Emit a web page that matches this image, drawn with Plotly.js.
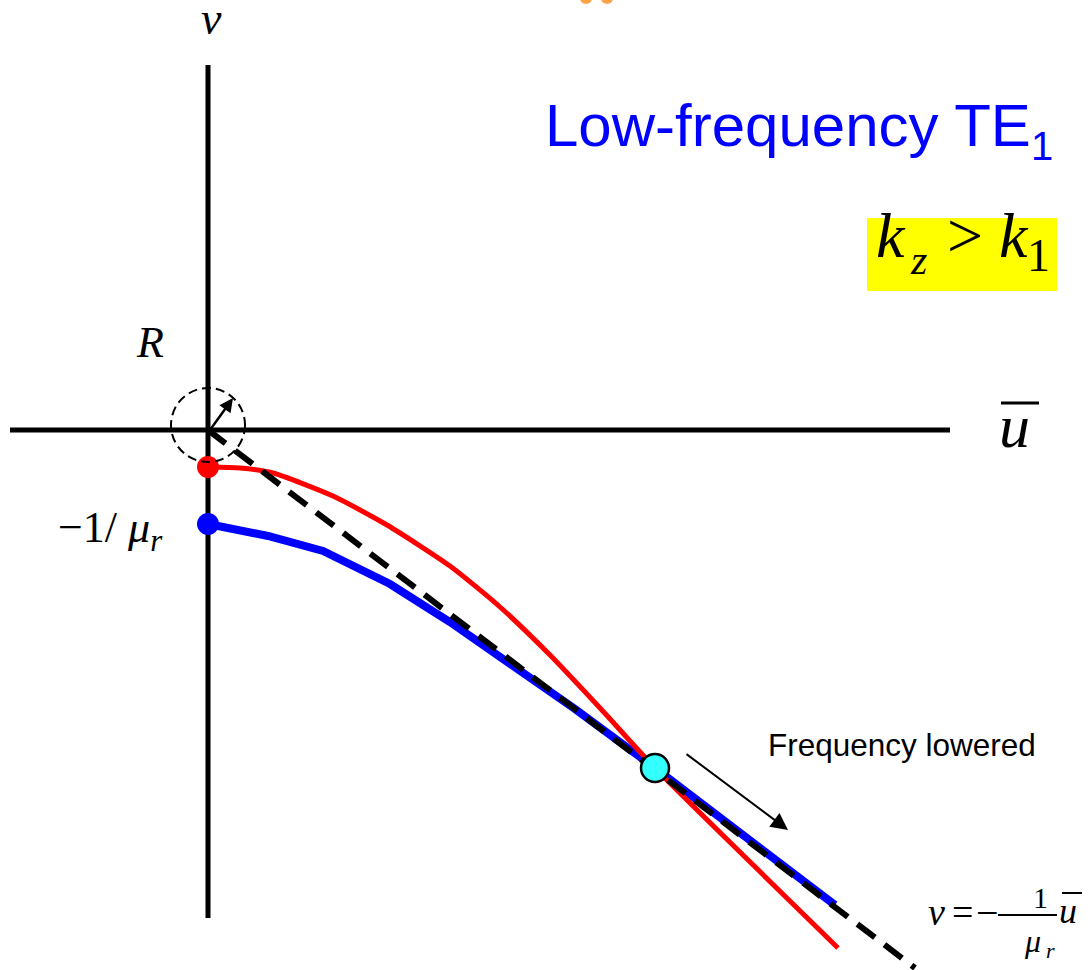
<!DOCTYPE html>
<html>
<head>
<meta charset="utf-8">
<script src="https://cdn.plot.ly/plotly-3.0.1.min.js"></script>
<style>
  html, body { margin: 0; padding: 0; background: #ffffff; }
  #chart { width: 1091px; height: 970px; }
</style>
</head>
<body>
<div id="chart"></div>
<script>
// Coordinate frame: normalised u (horizontal) and v (vertical), origin where the axes cross.
const uAxisU = [-1.98, 7.42];
const uAxisV = [0, 0];
const vAxisU = [0, 0];
const vAxisV = [3.65, -4.88];

// Blue branch (TE1 solution curve) starting at v = -1/mu_r
const blueU = [0, 0.60, 1.15, 1.82, 2.42, 3.02, 3.67, 4.47, 6.27];
const blueV = [-0.94, -1.06, -1.21, -1.54, -1.92, -2.33, -2.79, -3.38, -4.75];

// Red branch (circle-of-radius-R family)
const redU = [0, 0.32, 0.65, 1.25, 1.79, 2.42, 2.92, 3.42, 3.92, 4.47, 5.37, 6.30];
const redV = [-0.37, -0.38, -0.43, -0.66, -0.95, -1.36, -1.77, -2.25, -2.78, -3.38, -4.27, -5.18];

// Asymptote v = -(1/mu_r) u
const asymU = [0, 7.07];
const asymV = [0, -5.38];

// Start points on the v axis and the intersection point
const startU = [0, 0];
const startV = [-0.37, -0.94];
const startColors = ['#ff0000', '#0000ff'];
const crossU = [4.47];
const crossV = [-3.38];

// Small orange fragments at the top edge
const blobU = [3.78, 3.99];
const blobV = [4.32, 4.32];

const serif = 'Liberation Serif, Times New Roman, serif';
const sans = 'Liberation Sans, Arial, sans-serif';

const traces = [
  { x: uAxisU, y: uAxisV, mode: 'lines', line: { color: '#000', width: 5 }, hoverinfo: 'skip' },
  { x: vAxisU, y: vAxisV, mode: 'lines', line: { color: '#000', width: 5 }, hoverinfo: 'skip' },
  { x: blueU, y: blueV, mode: 'lines', line: { color: '#0000ff', width: 8, shape: 'linear' }, hoverinfo: 'skip' },
  { x: redU, y: redV, mode: 'lines', line: { color: '#ff0000', width: 5, shape: 'spline', smoothing: 0.6 }, hoverinfo: 'skip' },
  { x: asymU, y: asymV, mode: 'lines', line: { color: '#000', width: 6, dash: '22px,12px' }, hoverinfo: 'skip' },
  { x: startU, y: startV, mode: 'markers', marker: { color: startColors, size: 22, line: { width: 0 } }, hoverinfo: 'skip' },
  { x: crossU, y: crossV, mode: 'markers', marker: { color: '#33ffff', size: 28, line: { color: '#000', width: 2.5 } }, hoverinfo: 'skip' },
  { x: blobU, y: blobV, mode: 'markers', marker: { color: '#ff8c1a', size: 12, opacity: 0.8 }, hoverinfo: 'skip' }
];

const shapes = [
  // highlight box behind the condition
  { type: 'rect', xref: 'x', yref: 'y', x0: 6.59, x1: 8.49, y0: 1.39, y1: 2.12,
    fillcolor: '#ffff00', line: { width: 0 }, layer: 'below' },
  // dashed circle of radius R around the origin
  { type: 'circle', xref: 'x', yref: 'y', x0: -0.37, x1: 0.37, y0: -0.32, y1: 0.42,
    line: { color: '#000', width: 2, dash: '9px,5px' } },
  // overbar on the axis label u
  { type: 'line', xref: 'x', yref: 'y', x0: 7.93, x1: 8.31, y0: 0.27, y1: 0.27,
    line: { color: '#000', width: 3 } },
  // fraction bar and overbar in the asymptote formula
  { type: 'line', xref: 'x', yref: 'y', x0: 7.90, x1: 8.49, y0: -4.85, y1: -4.85,
    line: { color: '#000', width: 2 } },
  { type: 'line', xref: 'x', yref: 'y', x0: 8.54, x1: 8.74, y0: -4.63, y1: -4.63,
    line: { color: '#000', width: 2 } }
];

function txt(text, x, y, size, family, opts) {
  return Object.assign({
    text: text, x: x, y: y, xref: 'x', yref: 'y', showarrow: false,
    xanchor: 'center', yanchor: 'middle',
    font: { family: family, size: size, color: '#000' }
  }, opts || {});
}

const annotations = [
  txt('<i>v</i>', 0.03, 4.12, 46, serif),
  txt('<i>R</i>', -0.58, 0.88, 44, serif),
  txt('<i>u</i>', 8.06, 0.04, 62, serif),
  txt('−1/ <i>μ</i><sub><i>r</i></sub>', -0.43, -1.00, 44, serif, { xanchor: 'right' }),
  txt('Low-frequency TE', 3.35, 3.045, 60, sans, { xanchor: 'left', font: { family: sans, size: 60, color: '#0000ff' } }),
  txt('1', 8.21, 2.84, 40, sans, { xanchor: 'left', font: { family: sans, size: 40, color: '#0000ff' } }),
  txt('<i>k</i>', 6.66, 1.95, 64, serif, { xanchor: 'left' }),
  txt('<i>z</i>', 7.00, 1.70, 42, serif, { xanchor: 'left' }),
  txt('>', 7.57, 1.95, 64, serif),
  txt('<i>k</i>', 7.89, 1.95, 64, serif, { xanchor: 'left' }),
  txt('1', 8.17, 1.75, 46, serif, { xanchor: 'left' }),
  txt('Frequency lowered', 5.58, -3.15, 31.5, sans, { xanchor: 'left' }),
  txt('<i>v</i>', 7.28, -4.82, 38, serif),
  txt('=', 7.54, -4.82, 38, serif),
  txt('−', 7.79, -4.82, 40, serif),
  txt('1', 8.32, -4.67, 30, serif),
  txt('<i>μ</i>', 8.24, -5.11, 32, serif),
  txt('<i>r</i>', 8.42, -5.20, 22, serif),
  txt('<i>u</i>', 8.60, -4.81, 36, serif),
  // radius arrow inside the circle
  { x: 0.25, y: 0.32, ax: 0.02, ay: 0.0, xref: 'x', yref: 'y', axref: 'x', ayref: 'y',
    text: '', showarrow: true, arrowhead: 2, arrowsize: 1.1, arrowwidth: 2.5, arrowcolor: '#000', standoff: 0 },
  // direction of decreasing frequency
  { x: 5.80, y: -4.00, ax: 4.77, ay: -3.23, xref: 'x', yref: 'y', axref: 'x', ayref: 'y',
    text: '', showarrow: true, arrowhead: 2, arrowsize: 1.7, arrowwidth: 2, arrowcolor: '#000', standoff: 0 }
];

const layout = {
  width: 1091, height: 970,
  margin: { l: 0, r: 0, t: 0, b: 0 },
  paper_bgcolor: '#ffffff', plot_bgcolor: '#ffffff',
  showlegend: false,
  xaxis: { range: [-2.08, 8.83], visible: false, fixedrange: true },
  yaxis: { range: [-5.40, 4.30], visible: false, fixedrange: true },
  shapes: shapes,
  annotations: annotations
};

Plotly.newPlot('chart', traces, layout, { staticPlot: true });
</script>
</body>
</html>
